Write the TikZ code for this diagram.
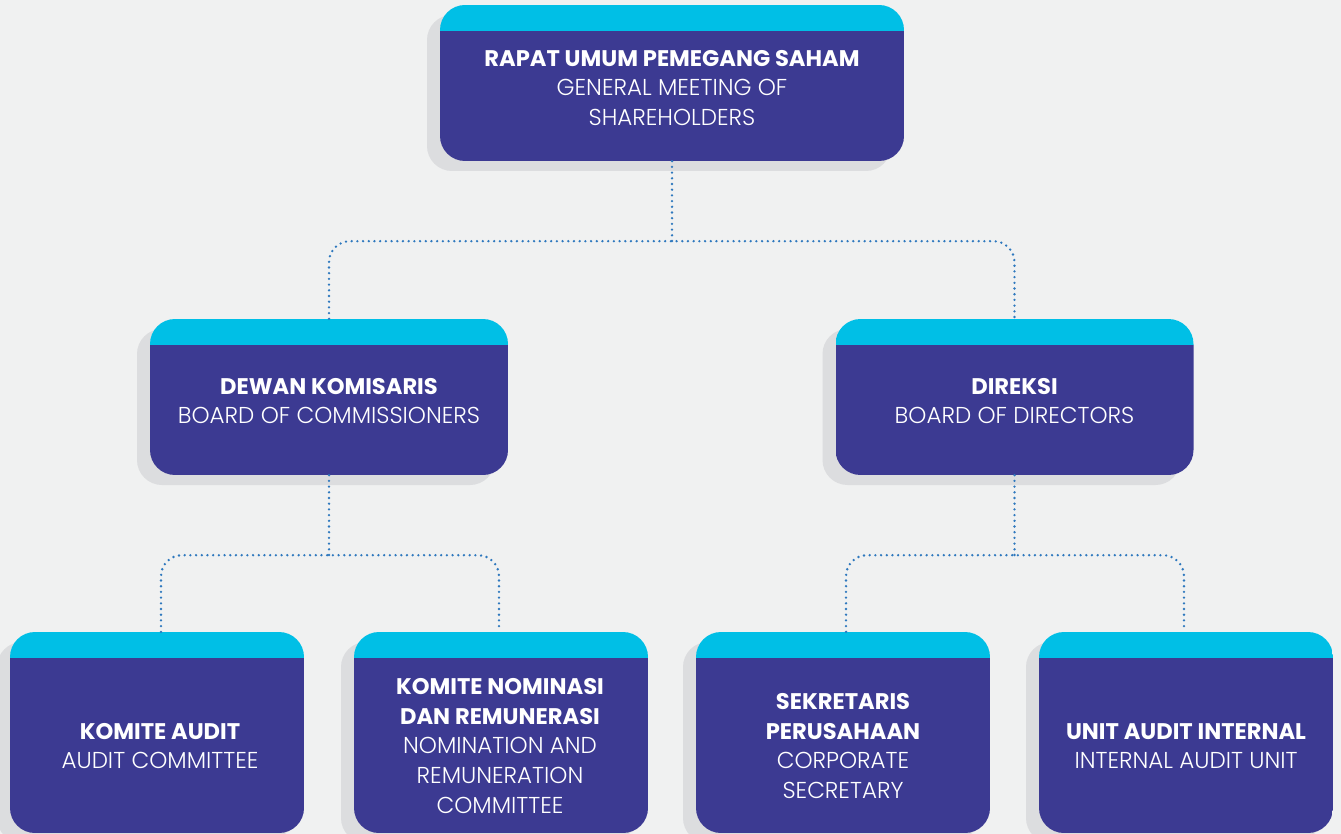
\documentclass[tikz,border=0pt]{standalone}
\usepackage{fontspec}
\setmainfont{Poppins}
\newfontfamily\poplight{Poppins}[UprightFont=* Light]
\usetikzlibrary{shadows}
\definecolor{bgc}{HTML}{F0F1F1}
\definecolor{boxc}{HTML}{3C3A92}
\definecolor{stripc}{HTML}{00BFE6}
\definecolor{shadowc}{HTML}{DCDDDF}
\definecolor{linkc}{HTML}{2E78BE}
\tikzset{
  orgbox/.style={rectangle, rounded corners=25pt, inner sep=0pt,
    general shadow={fill=shadowc, shadow xshift=-13pt, shadow yshift=-10pt},
    path picture={
      \fill[stripc, sharp corners] (path picture bounding box.north west)
        rectangle ([yshift=-26pt]path picture bounding box.north east);
      \fill[boxc, sharp corners] ([yshift=-26pt]path picture bounding box.north west)
        rectangle (path picture bounding box.south east);}},
  topbox/.style={orgbox, minimum width=464pt, minimum height=156pt},
  midbox/.style={orgbox, minimum width=358pt, minimum height=156pt},
  lowbox/.style={orgbox, minimum width=294pt, minimum height=201pt},
  boxtext/.style={text=white, align=center, inner sep=0pt,
    font=\fontsize{23}{29.6}\selectfont\poplight},
  link/.style={draw=linkc, line width=2.6pt, dash pattern=on 0pt off 5.7pt,
    line cap=round, rounded corners=21pt}
}
\newcommand{\hd}[1]{{\normalfont\bfseries\fontsize{22.6}{29.6}\selectfont #1}}
\begin{document}
\begin{tikzpicture}[x=1pt,y=-1pt]
  \fill[bgc] (0,0) rectangle (1341,834);
  \useasboundingbox (0,0) rectangle (1341,834);

  % boxes
  \node[topbox] (rups) at (672,83) {};
  \node[midbox] (dk)  at (329,397) {};
  \node[midbox] (dir) at (1014.5,397) {};
  \node[lowbox] (ka)  at (157,732.5) {};
  \node[lowbox] (knr) at (501,732.5) {};
  \node[lowbox] (sp)  at (843,732.5) {};
  \node[lowbox] (uai) at (1186,732.5) {};

  % labels
  \node[boxtext] (t-rups) at (672,88) {\hd{RAPAT UMUM PEMEGANG SAHAM}\\GENERAL MEETING OF\\SHAREHOLDERS};
  \node[boxtext] (t-dk) at (329,401) {\hd{DEWAN KOMISARIS}\\BOARD OF COMMISSIONERS};
  \node[boxtext] (t-dir) at (1014.5,401) {\hd{DIREKSI}\\BOARD OF DIRECTORS};
  \node[boxtext] (t-ka) at (160,746) {\hd{KOMITE AUDIT}\\AUDIT COMMITTEE};
  \node[boxtext] (t-knr) at (500,746) {\hd{KOMITE NOMINASI}\\\hd{DAN REMUNERASI}\\NOMINATION AND\\REMUNERATION\\COMMITTEE};
  \node[boxtext] (t-sp) at (843,746) {\hd{SEKRETARIS}\\\hd{PERUSAHAAN}\\CORPORATE\\SECRETARY};
  \node[boxtext] (t-uai) at (1186,746) {\hd{UNIT AUDIT INTERNAL}\\INTERNAL AUDIT UNIT};

  % connectors
  \coordinate (j1) at ([yshift=-80pt]rups.south);
  \coordinate (j2) at ([yshift=-80pt]dk.south);
  \coordinate (j3) at ([yshift=-80pt]dir.south);
  \draw[link] (rups.south) -- (j1);
  \draw[link] (dk.north) |- (j1) -| (dir.north);
  \draw[link] (dk.south) -- (j2);
  \draw[link] ([xshift=4pt]ka.north) |- (j2) -| ([xshift=-2pt]knr.north);
  \draw[link] (dir.south) -- (j3);
  \draw[link] ([xshift=3pt]sp.north) |- (j3) -| ([xshift=-2pt]uai.north);
\end{tikzpicture}
\end{document}
